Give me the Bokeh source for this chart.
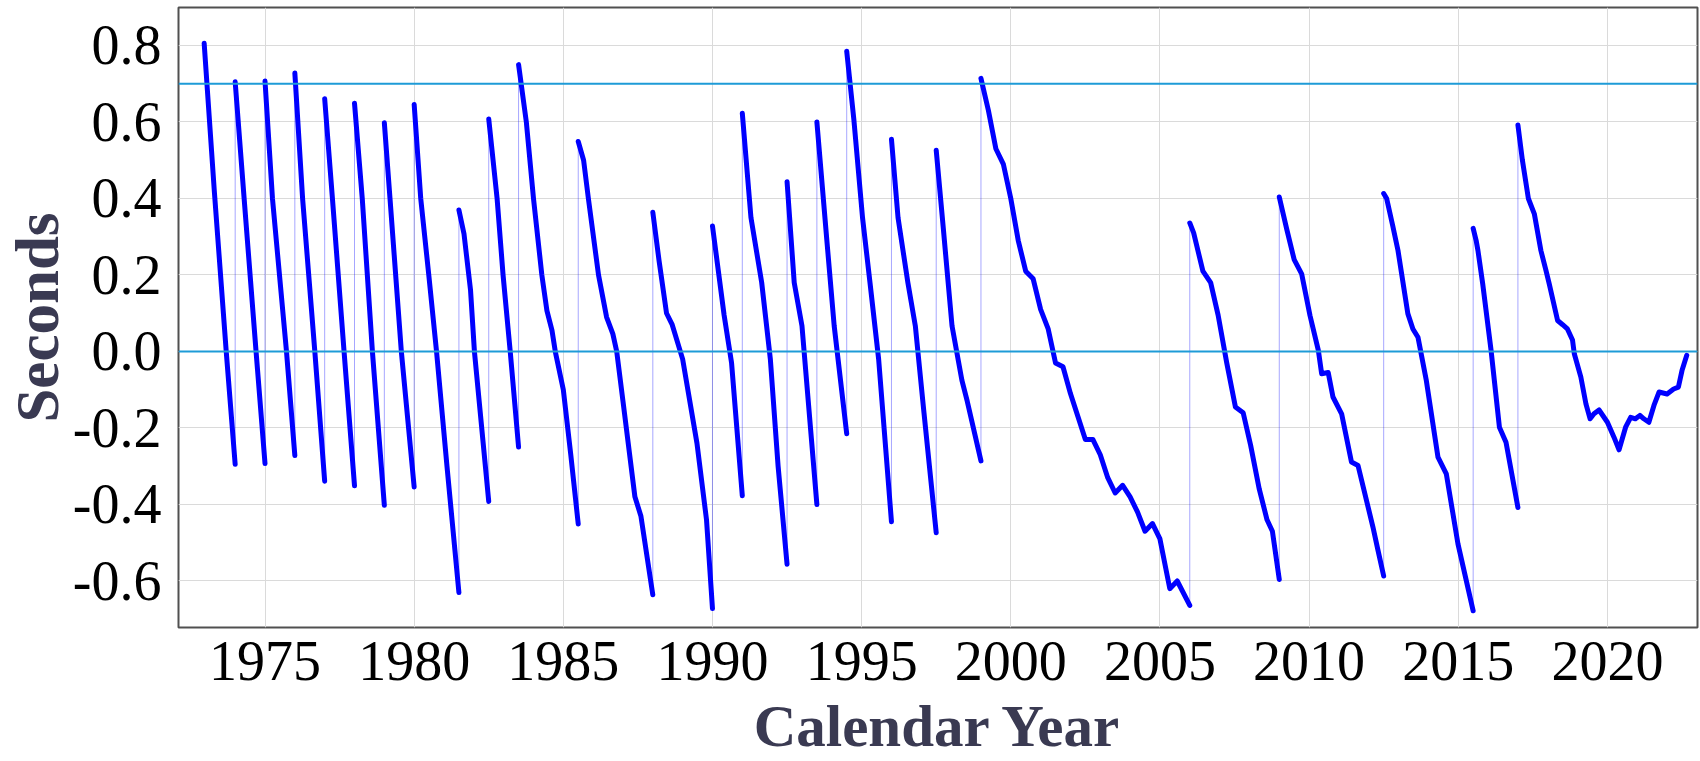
from bokeh.plotting import figure
from bokeh.models import Span, FixedTicker, NumeralTickFormatter
from bokeh.embed import file_html
from bokeh.resources import INLINE

# UT1-UTC (seconds); a leap second appears as two
# consecutive points at the same epoch (end of one run, start of the next).
years = [
    1972.96, 1973.30, 1973.70, 1974.00,
    1974.00, 1974.30, 1974.70, 1975.00,
    1975.00, 1975.25, 1975.72, 1976.00,
    1976.00, 1976.26, 1976.67, 1977.00,
    1977.00, 1977.26, 1977.65, 1978.00,
    1978.00, 1978.26, 1978.60, 1979.00,
    1979.00, 1979.19, 1979.57, 1980.00,
    1980.00, 1980.22, 1980.49, 1980.75, 1981.10, 1981.50,
    1981.50, 1981.67, 1981.89, 1982.02, 1982.50,
    1982.50, 1982.78, 1982.98, 1983.22, 1983.50,
    1983.50, 1983.76, 1984.00, 1984.28, 1984.45, 1984.62, 1984.73, 1985.00, 1985.25, 1985.50,
    1985.50, 1985.68, 1985.84, 1986.18, 1986.45, 1986.66, 1986.79, 1987.00, 1987.40, 1987.60, 1988.00,
    1988.00, 1988.21, 1988.46, 1988.65, 1989.00, 1989.48, 1989.80, 1990.00,
    1990.00, 1990.39, 1990.64, 1991.00,
    1991.00, 1991.29, 1991.65, 1991.94, 1992.20, 1992.50,
    1992.50, 1992.74, 1993.00, 1993.50,
    1993.50, 1993.83, 1994.08, 1994.50,
    1994.50, 1994.74, 1995.03, 1995.28, 1995.57, 1996.00,
    1996.00, 1996.22, 1996.55, 1996.80, 1997.09, 1997.50,
    1997.50, 1997.74, 1998.03, 1998.36, 1998.54, 1999.00,
    1999.00, 1999.25, 1999.50, 1999.75, 2000.00, 2000.25, 2000.50, 2000.75, 2001.00,
    2001.25, 2001.50, 2001.75, 2002.00, 2002.25, 2002.50, 2002.75, 2003.00, 2003.25,
    2003.50, 2003.75, 2004.00, 2004.25, 2004.50, 2004.75, 2005.00, 2005.33, 2005.58, 2006.00,
    2006.00, 2006.13, 2006.44, 2006.70, 2006.95, 2007.24, 2007.53, 2007.79, 2008.04,
    2008.33, 2008.59, 2008.77, 2009.00,
    2009.00, 2009.25, 2009.50, 2009.75, 2010.03, 2010.31, 2010.42, 2010.64, 2010.80,
    2011.09, 2011.42, 2011.64, 2012.14, 2012.31, 2012.50,
    2012.50, 2012.60, 2012.80, 2012.98, 2013.31, 2013.48, 2013.65, 2013.93, 2014.32,
    2014.60, 2014.99, 2015.50,
    2015.50, 2015.60, 2015.66, 2015.82, 2016.10, 2016.38, 2016.60, 2017.00,
    2017.00, 2017.15, 2017.35, 2017.55, 2017.77, 2017.94, 2018.05, 2018.33, 2018.50,
    2018.66, 2018.83, 2018.89, 2019.11, 2019.28, 2019.42, 2019.55, 2019.72, 2020.00,
    2020.22, 2020.39, 2020.61, 2020.78, 2020.94, 2021.09, 2021.22, 2021.39, 2021.56,
    2021.73, 2022.00, 2022.22, 2022.38, 2022.50, 2022.66,
]
seconds = [
    0.806, 0.420, 0.000, -0.295,
    0.705, 0.400, 0.000, -0.293,
    0.707, 0.400, 0.000, -0.272,
    0.728, 0.400, 0.000, -0.339,
    0.661, 0.400, 0.000, -0.351,
    0.649, 0.400, 0.000, -0.402,
    0.598, 0.400, 0.000, -0.354,
    0.646, 0.400, 0.200, 0.000, -0.300, -0.630,
    0.370, 0.308, 0.160, 0.000, -0.392,
    0.608, 0.400, 0.200, 0.000, -0.250,
    0.750, 0.600, 0.400, 0.200, 0.107, 0.055, 0.000, -0.100, -0.270, -0.451,
    0.549, 0.500, 0.400, 0.200, 0.090, 0.046, 0.000, -0.130, -0.380, -0.430, -0.636,
    0.364, 0.237, 0.100, 0.070, -0.020, -0.240, -0.440, -0.672,
    0.328, 0.095, -0.030, -0.377,
    0.623, 0.350, 0.180, -0.020, -0.300, -0.556,
    0.444, 0.180, 0.067, -0.400,
    0.600, 0.294, 0.067, -0.215,
    0.785, 0.606, 0.350, 0.180, -0.020, -0.445,
    0.555, 0.350, 0.180, 0.067, -0.160, -0.474,
    0.526, 0.320, 0.067, -0.075, -0.130, -0.286,
    0.714, 0.630, 0.530, 0.490, 0.400, 0.290, 0.210, 0.190, 0.110,
    0.060, -0.030, -0.040, -0.110, -0.170, -0.230, -0.230, -0.270, -0.330,
    -0.370, -0.350, -0.380, -0.420, -0.470, -0.450, -0.490, -0.620, -0.600, -0.664,
    0.336, 0.310, 0.210, 0.180, 0.095, -0.030, -0.145, -0.160, -0.245,
    -0.360, -0.440, -0.470, -0.596,
    0.404, 0.320, 0.240, 0.203, 0.094, 0.003, -0.058, -0.055, -0.119,
    -0.163, -0.289, -0.298, -0.459, -0.520, -0.587,
    0.413, 0.400, 0.330, 0.264, 0.099, 0.059, 0.037, -0.076, -0.276,
    -0.320, -0.503, -0.678,
    0.322, 0.290, 0.264, 0.177, 0.003, -0.198, -0.237, -0.408,
    0.592, 0.500, 0.400, 0.360, 0.264, 0.212, 0.177, 0.081, 0.070,
    0.059, 0.030, -0.006, -0.067, -0.137, -0.176, -0.163, -0.153, -0.185,
    -0.224, -0.257, -0.198, -0.172, -0.176, -0.167, -0.176, -0.185, -0.141,
    -0.106, -0.111, -0.098, -0.093, -0.050, -0.010,
]
reference_levels = [0.7, 0.0]
x_ticks = [1975, 1980, 1985, 1990, 1995, 2000, 2005, 2010, 2015, 2020]
y_ticks = [-0.6, -0.4, -0.2, 0.0, 0.2, 0.4, 0.6, 0.8]
x_title = "Calendar Year"
y_title = "Seconds"

# split the series into continuous runs at the leap-second jumps
runs_x, runs_y = [], []
cx, cy = [years[0]], [seconds[0]]
for i in range(1, len(years)):
    if seconds[i] - seconds[i - 1] > 0.5:
        runs_x.append(cx)
        runs_y.append(cy)
        cx, cy = [], []
    cx.append(years[i])
    cy.append(seconds[i])
runs_x.append(cx)
runs_y.append(cy)

X0, X1 = 1972.10, 2023.02
p = figure(
    width=1700, height=761,
    x_range=(X0, X1), y_range=(-0.7216, 0.8993),
    output_backend="svg", toolbar_location=None,
    min_border_left=174, min_border_right=3,
    min_border_top=7, min_border_bottom=134,
    background_fill_color="white", border_fill_color="white",
)

p.outline_line_color = "#505050"
p.outline_line_width = 2
p.grid.grid_line_color = "#dadada"
p.grid.grid_line_width = 1
p.xgrid.ticker = FixedTicker(ticks=x_ticks)
p.ygrid.ticker = FixedTicker(ticks=y_ticks)

p.xaxis.ticker = FixedTicker(ticks=x_ticks)
p.yaxis.ticker = FixedTicker(ticks=y_ticks)
p.yaxis.formatter = NumeralTickFormatter(format="0.0")
for ax in (p.xaxis, p.yaxis):
    ax.axis_line_color = None
    ax.major_tick_line_color = None
    ax.minor_tick_line_color = None
    ax.major_label_text_font = "Liberation Serif"
    ax.major_label_text_font_size = "56px"
    ax.major_label_text_color = "black"
    ax.axis_label_text_font = "Liberation Serif"
    ax.axis_label_text_font_style = "bold"
    ax.axis_label_text_color = "#3a3a52"
p.xaxis.major_label_standoff = 8
p.yaxis.major_label_standoff = 11

p.yaxis.axis_label = y_title
p.yaxis.axis_label_text_font_size = "61px"
p.yaxis.axis_label_standoff = -1

p.xaxis.axis_label = x_title
p.xaxis.axis_label_text_font_size = "59px"
p.xaxis.axis_label_standoff = 10

# thin connector (shows the leap-second jumps), then the thick series
p.line(years, seconds, line_color="#0000ff", line_width=1, line_alpha=0.35)
p.multi_line(runs_x, runs_y, line_color="#0000ff", line_width=5,
             line_cap="round", line_join="round")

for lvl in reference_levels:
    p.add_layout(Span(location=lvl, dimension="width",
                      line_color="#1e9bd7", line_width=2))

open("out.html", "w").write(file_html(p, INLINE))
